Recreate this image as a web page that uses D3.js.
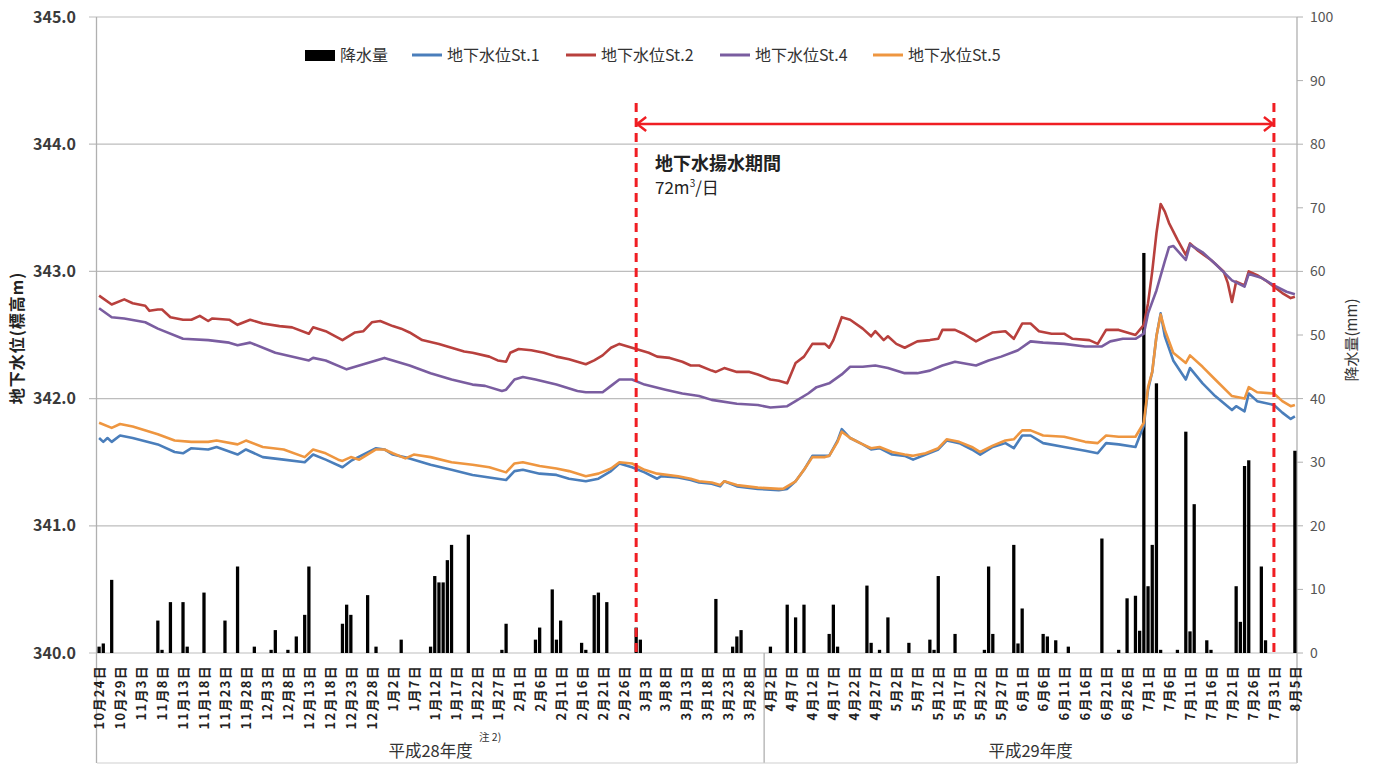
<!DOCTYPE html>
<html>
<head>
<meta charset="UTF-8">
<title>地下水位と降水量</title>
<style>
  body { margin: 0; background: #fff; }
  text { font-family: "Noto Sans CJK JP", "Noto Sans", sans-serif; }
</style>
</head>
<body>
<div id="chart"></div>
<script src="https://cdn.jsdelivr.net/npm/d3@7"></script>
<script>
// 日付は 2016/10/24 からの日数（0 = 10月24日, 285 = 8月5日）
const startDate = new Date(2016, 9, 24);
const endDate = new Date(2017, 7, 6);

// 年度区分（開始日の日数）
const fiscalNames = ["平成28年度", "平成29年度"];
const fiscalStart = [0, 159];

// 降水量 (mm) [日数, 値]
const rain = [
  [0,1.0],[1,1.5],[3,11.5],[14,5.1],[15,0.5],[17,8.0],[20,8.0],[21,1.0],[25,9.5],[30,5.1],[33,13.6],
  [37,1.0],[41,0.5],[42,3.6],[45,0.5],[47,2.6],[49,6.0],[50,13.6],[58,4.6],[59,7.6],[60,6.0],[64,9.1],[66,1.0],
  [72,2.1],[79,1.0],[80,12.1],[81,11.1],[82,11.1],[83,14.6],[84,17.0],[88,18.6],[96,0.5],[97,4.6],
  [104,2.1],[105,4.0],[108,10.0],[109,2.1],[110,5.1],[115,1.6],[116,0.5],[118,9.1],[119,9.5],[121,8.0],
  [128,4.0],[129,2.1],[147,8.5],[151,1.0],[152,2.6],[153,3.6],[160,1.0],[164,7.6],[166,5.6],[168,7.6],
  [174,3.0],[175,7.6],[176,1.0],[183,10.6],[184,1.6],[186,0.5],[188,5.6],[193,1.6],[198,2.1],[199,0.5],
  [200,12.1],[204,3.0],[211,0.5],[212,13.6],[213,3.0],[218,17.0],[219,1.5],[220,7.0],[225,3.0],[226,2.6],
  [228,2.0],[231,1.0],[239,18.0],[243,0.5],[245,8.6],[247,9.0],[248,3.5],[249,62.9],[250,10.5],[251,17.0],
  [252,42.4],[253,0.5],[257,0.5],[259,34.8],[260,3.4],[261,23.4],[264,2.0],[265,0.5],[271,10.5],[272,4.9],
  [273,29.4],[274,30.3],[277,13.6],[278,2.0],[285,31.8]
];

// 地下水位 (標高m) [日数, 値]
const st1 = [
  [0,341.69],[1,341.66],[2,341.69],[3,341.66],[5,341.71],[8,341.69],[14,341.64],[18,341.58],[20,341.57],
  [22,341.61],[26,341.60],[28,341.62],[33,341.56],[35,341.60],[39,341.54],[44,341.52],[49,341.50],[51,341.56],
  [54,341.52],[58,341.46],[60,341.51],[66,341.61],[68,341.60],[70,341.56],[74,341.53],[79,341.48],[84,341.44],
  [89,341.40],[93,341.38],[97,341.36],[99,341.43],[101,341.44],[105,341.41],[109,341.40],[112,341.37],
  [116,341.35],[119,341.37],[122,341.43],[124,341.49],[127,341.46],[130,341.42],[133,341.37],[134,341.39],
  [138,341.38],[141,341.36],[143,341.34],[146,341.33],[148,341.31],[149,341.35],[152,341.31],[157,341.29],
  [162,341.28],[164,341.29],[166,341.35],[168,341.44],[170,341.55],[173,341.55],[174,341.55],[176,341.67],
  [177,341.76],[179,341.69],[182,341.64],[184,341.60],[186,341.61],[189,341.56],[192,341.55],[194,341.52],
  [197,341.56],[200,341.60],[202,341.67],[205,341.65],[208,341.60],[210,341.56],[213,341.62],[216,341.65],
  [218,341.61],[220,341.71],[222,341.71],[225,341.65],[230,341.62],[235,341.59],[238,341.57],[240,341.65],
  [243,341.64],[247,341.62],[249,341.79],[250,342.07],[251,342.21],[252,342.49],[253,342.67],[254,342.49],
  [256,342.30],[259,342.15],[260,342.24],[263,342.12],[266,342.02],[270,341.91],[271,341.94],[273,341.90],
  [274,342.04],[276,341.98],[280,341.95],[282,341.89],[284,341.84],[285,341.86]
];
const st2 = [
  [0,342.81],[3,342.74],[6,342.78],[8,342.75],[11,342.73],[12,342.69],[14,342.70],[15,342.70],[17,342.64],
  [20,342.62],[22,342.62],[24,342.65],[26,342.61],[27,342.63],[31,342.62],[33,342.58],[36,342.62],[39,342.59],
  [43,342.57],[46,342.56],[50,342.51],[51,342.56],[54,342.53],[58,342.46],[61,342.52],[63,342.53],[65,342.60],
  [67,342.61],[70,342.57],[72,342.55],[74,342.52],[77,342.46],[81,342.43],[84,342.40],[87,342.37],[89,342.36],
  [93,342.33],[95,342.30],[97,342.29],[98,342.36],[100,342.39],[103,342.38],[106,342.36],[109,342.33],
  [112,342.31],[116,342.27],[118,342.30],[120,342.34],[122,342.40],[124,342.43],[126,342.41],[128,342.39],
  [131,342.36],[133,342.33],[136,342.32],[139,342.29],[141,342.26],[143,342.26],[146,342.22],[147,342.21],
  [149,342.24],[152,342.21],[155,342.21],[157,342.19],[160,342.15],[162,342.14],[164,342.12],[166,342.28],
  [168,342.33],[170,342.43],[173,342.43],[174,342.40],[175,342.46],[177,342.64],[179,342.62],[182,342.55],
  [184,342.49],[185,342.53],[187,342.46],[188,342.49],[190,342.43],[192,342.40],[195,342.45],[198,342.46],
  [200,342.47],[201,342.54],[204,342.54],[206,342.51],[209,342.45],[213,342.52],[216,342.53],[218,342.47],
  [220,342.59],[222,342.59],[224,342.53],[227,342.51],[230,342.51],[232,342.47],[236,342.46],[238,342.43],
  [240,342.54],[243,342.54],[245,342.52],[247,342.50],[249,342.58],[250,342.75],[251,343.00],[252,343.30],
  [253,343.53],[254,343.47],[255,343.38],[257,343.25],[259,343.13],[260,343.22],[262,343.16],[265,343.09],
  [268,343.00],[269,342.91],[270,342.76],[271,342.92],[273,342.89],[274,343.00],[276,342.97],[278,342.93],
  [280,342.88],[282,342.83],[284,342.79],[285,342.80]
];
const st4 = [
  [0,342.71],[3,342.64],[6,342.63],[11,342.60],[14,342.55],[20,342.47],[26,342.46],[31,342.44],[33,342.42],
  [36,342.44],[42,342.36],[50,342.30],[51,342.32],[54,342.30],[59,342.23],[63,342.27],[68,342.32],[72,342.28],
  [74,342.26],[79,342.20],[84,342.15],[89,342.11],[92,342.10],[96,342.06],[97,342.07],[99,342.15],[101,342.17],
  [104,342.15],[109,342.11],[114,342.06],[116,342.05],[120,342.05],[122,342.10],[124,342.15],[127,342.15],
  [130,342.11],[135,342.07],[139,342.04],[143,342.02],[146,341.99],[152,341.96],[157,341.95],[160,341.93],
  [164,341.94],[166,341.98],[169,342.04],[171,342.09],[174,342.12],[177,342.19],[179,342.25],[182,342.25],
  [185,342.26],[188,342.24],[192,342.20],[195,342.20],[198,342.22],[201,342.26],[204,342.29],[209,342.26],
  [212,342.30],[215,342.33],[219,342.38],[222,342.45],[225,342.44],[230,342.43],[235,342.41],[239,342.41],
  [241,342.45],[244,342.47],[247,342.47],[249,342.51],[250,342.67],[252,342.85],[254,343.08],[255,343.19],
  [256,343.20],[259,343.09],[260,343.21],[263,343.15],[266,343.06],[270,342.93],[273,342.88],[274,342.98],
  [277,342.95],[280,342.89],[283,342.84],[285,342.82]
];
const st5 = [
  [0,341.81],[3,341.77],[5,341.80],[8,341.78],[14,341.72],[18,341.67],[22,341.66],[26,341.66],[28,341.67],
  [33,341.64],[35,341.67],[39,341.62],[44,341.60],[49,341.54],[51,341.60],[54,341.57],[57,341.52],[58,341.51],
  [60,341.54],[62,341.52],[66,341.60],[68,341.60],[70,341.57],[73,341.53],[75,341.56],[79,341.54],[84,341.50],
  [89,341.48],[93,341.46],[97,341.42],[99,341.49],[101,341.50],[105,341.47],[109,341.45],[112,341.43],
  [116,341.39],[119,341.41],[122,341.45],[124,341.50],[127,341.49],[130,341.44],[133,341.41],[138,341.39],
  [141,341.37],[143,341.35],[146,341.34],[148,341.32],[149,341.35],[152,341.32],[157,341.30],[162,341.29],
  [163,341.29],[166,341.35],[168,341.44],[170,341.54],[173,341.54],[174,341.55],[176,341.66],[177,341.74],
  [179,341.69],[182,341.64],[184,341.61],[186,341.62],[189,341.58],[192,341.56],[194,341.55],[197,341.57],
  [200,341.61],[202,341.68],[205,341.66],[208,341.62],[210,341.58],[213,341.63],[216,341.67],[218,341.68],
  [220,341.75],[222,341.75],[225,341.71],[230,341.70],[235,341.66],[238,341.65],[240,341.71],[243,341.70],
  [247,341.70],[249,341.81],[250,342.09],[251,342.21],[252,342.49],[253,342.66],[254,342.54],[256,342.36],
  [259,342.28],[260,342.34],[263,342.25],[266,342.15],[270,342.02],[273,342.00],[274,342.09],[276,342.05],
  [280,342.04],[282,341.98],[284,341.94],[285,341.95]
];

const seriesNames = ["地下水位St.1", "地下水位St.2", "地下水位St.4", "地下水位St.5"];
const seriesColors = ["#4a7ebb", "#b8403d", "#7a5da0", "#ee9640"];
const seriesData = [st1, st2, st4, st5];

// 揚水期間（日付）
const pumpStart = new Date(2017, 2, 1);
const pumpEnd = new Date(2017, 6, 31);

const days = d3.timeDay.range(startDate, endDate);
const dayIndex = dt => d3.timeDay.count(startDate, dt);

const svg = d3.select("#chart").append("svg")
  .attr("width", 1379).attr("height", 765);

const plotL = 97, plotR = 1297, plotT = 17, plotB = 653;

const x = d3.scaleBand().domain(d3.range(days.length)).range([plotL, plotR]);
const cx = i => x(i) + x.bandwidth() / 2;
const yL = d3.scaleLinear().domain([340, 345]).range([plotB, plotT]);
const yR = d3.scaleLinear().domain([0, 100]).range([plotB, plotT]);

// グリッド
svg.append("g").selectAll("line").data(yL.ticks(5)).enter().append("line")
  .attr("x1", plotL - 8).attr("x2", plotR).attr("y1", d => yL(d)).attr("y2", d => yL(d))
  .attr("stroke", "#bdbdbd").attr("stroke-width", 1.2);

// 軸線
svg.append("line").attr("x1", plotL - 0.5).attr("x2", plotL - 0.5).attr("y1", plotT).attr("y2", 763)
  .attr("stroke", "#b0b0b0").attr("stroke-width", 1.3);
svg.append("line").attr("x1", plotR).attr("x2", plotR).attr("y1", plotT).attr("y2", 763)
  .attr("stroke", "#b0b0b0").attr("stroke-width", 1.3);
svg.append("line").attr("x1", x(fiscalStart[1])).attr("x2", x(fiscalStart[1])).attr("y1", plotB).attr("y2", 763)
  .attr("stroke", "#b0b0b0").attr("stroke-width", 1.3);
svg.append("line").attr("x1", plotL).attr("x2", plotR).attr("y1", 763).attr("y2", 763)
  .attr("stroke", "#d0d0d0").attr("stroke-width", 1.2);

// 左軸ラベル
svg.append("g").selectAll("text").data(yL.ticks(5)).enter().append("text")
  .attr("x", 76).attr("y", d => yL(d)).attr("dy", "0.35em")
  .attr("text-anchor", "end").attr("font-size", "16px").attr("font-weight", "bold").attr("fill", "#3a3a3a")
  .text(d => d3.format(".1f")(d));

// 右軸
svg.append("g").selectAll("line").data(yR.ticks(10)).enter().append("line")
  .attr("x1", plotR).attr("x2", plotR + 6).attr("y1", d => yR(d)).attr("y2", d => yR(d))
  .attr("stroke", "#b0b0b0");
svg.append("g").selectAll("text").data(yR.ticks(10)).enter().append("text")
  .attr("x", 1310).attr("y", d => yR(d)).attr("dy", "0.35em")
  .attr("font-size", "14px").attr("fill", "#555")
  .text(d => d);

// 降水量
const barW = x.bandwidth() * 0.78;
svg.append("g").selectAll("rect").data(rain).enter().append("rect")
  .attr("x", d => cx(d[0]) - barW / 2).attr("width", barW)
  .attr("y", d => yR(d[1])).attr("height", d => plotB - yR(d[1]))
  .attr("fill", "#000");

// 地下水位
const line = d3.line().x(d => cx(d[0])).y(d => yL(d[1]));
svg.append("g").selectAll("path").data(seriesData).enter().append("path")
  .attr("d", d => line(d)).attr("fill", "none")
  .attr("stroke", (d, i) => seriesColors[i]).attr("stroke-width", 2.6)
  .attr("stroke-linejoin", "round");

// x軸ラベル（5日おき）
const fmt = d3.timeFormat("%-m月%-d日");
svg.append("g").selectAll("text").data(days.filter((d, i) => i % 5 === 0)).enter().append("text")
  .attr("transform", d => `translate(${cx(dayIndex(d))},665) rotate(-90)`)
  .attr("dy", "0.38em").attr("text-anchor", "end")
  .attr("font-size", "13px").attr("letter-spacing", "1.3px").attr("font-weight", "bold").attr("fill", "#222")
  .text(d => fmt(d));

// 年度ラベル
svg.append("g").selectAll("text").data(fiscalNames).enter().append("text")
  .attr("x", (d, i) => (x(fiscalStart[i]) + (i + 1 < fiscalStart.length ? x(fiscalStart[i + 1]) : plotR)) / 2)
  .attr("y", 757).attr("text-anchor", "middle")
  .attr("font-size", "16.5px").attr("fill", "#333")
  .text(d => d);
svg.append("text").attr("x", 479).attr("y", 741)
  .attr("font-size", "10.5px").attr("fill", "#333").text("注 2)");

// 軸タイトル
svg.append("text").attr("transform", "translate(17,338) rotate(-90)")
  .attr("dy", "0.35em").attr("text-anchor", "middle")
  .attr("font-size", "16px").attr("letter-spacing", "1px").attr("font-weight", "bold").attr("fill", "#222")
  .text("地下水位(標高m)");
svg.append("text").attr("transform", "translate(1352,340) rotate(-90)")
  .attr("dy", "0.35em").attr("text-anchor", "middle")
  .attr("font-size", "15px").attr("fill", "#333")
  .text("降水量(mm)");

// 凡例
const lg = svg.append("g");
lg.append("rect").attr("x", 305).attr("y", 50).attr("width", 30).attr("height", 11).attr("fill", "#000");
lg.append("text").attr("x", 340).attr("y", 55).attr("dy", "0.35em")
  .attr("font-size", "16px").attr("fill", "#333").text("降水量");
const lgX = [412, 566, 720, 873];
seriesNames.forEach((name, i) => {
  lg.append("line").attr("x1", lgX[i]).attr("x2", lgX[i] + 30).attr("y1", 55).attr("y2", 55)
    .attr("stroke", seriesColors[i]).attr("stroke-width", 3);
  lg.append("text").attr("x", lgX[i] + 35).attr("y", 55).attr("dy", "0.35em")
    .attr("font-size", "16px").attr("fill", "#333").text(name);
});

// 揚水期間
const red = "#f01e23";
const xs = cx(dayIndex(pumpStart)), xe = cx(dayIndex(pumpEnd));
[xs, xe].forEach(xx => {
  svg.append("line").attr("x1", xx).attr("x2", xx).attr("y1", 103).attr("y2", plotB)
    .attr("stroke", red).attr("stroke-width", 3).attr("stroke-dasharray", "9,6");
});
const ay = 124;
svg.append("line").attr("x1", xs + 1).attr("x2", xe - 1).attr("y1", ay).attr("y2", ay)
  .attr("stroke", red).attr("stroke-width", 2.5);
svg.append("path").attr("d", `M${xs + 10},${ay - 7} L${xs + 1},${ay} L${xs + 10},${ay + 7}`)
  .attr("fill", "none").attr("stroke", red).attr("stroke-width", 2.5);
svg.append("path").attr("d", `M${xe - 10},${ay - 7} L${xe - 1},${ay} L${xe - 10},${ay + 7}`)
  .attr("fill", "none").attr("stroke", red).attr("stroke-width", 2.5);
svg.append("text").attr("x", 655).attr("y", 170)
  .attr("font-size", "18px").attr("font-weight", "bold").attr("fill", "#222").text("地下水揚水期間");
const t2 = svg.append("text").attr("x", 655).attr("y", 194)
  .attr("font-size", "17px").attr("fill", "#222");
t2.append("tspan").text("72m");
t2.append("tspan").attr("font-size", "10px").attr("dy", "-7").text("3");
t2.append("tspan").attr("dy", "7").text("/日");
</script>
</body>
</html>
